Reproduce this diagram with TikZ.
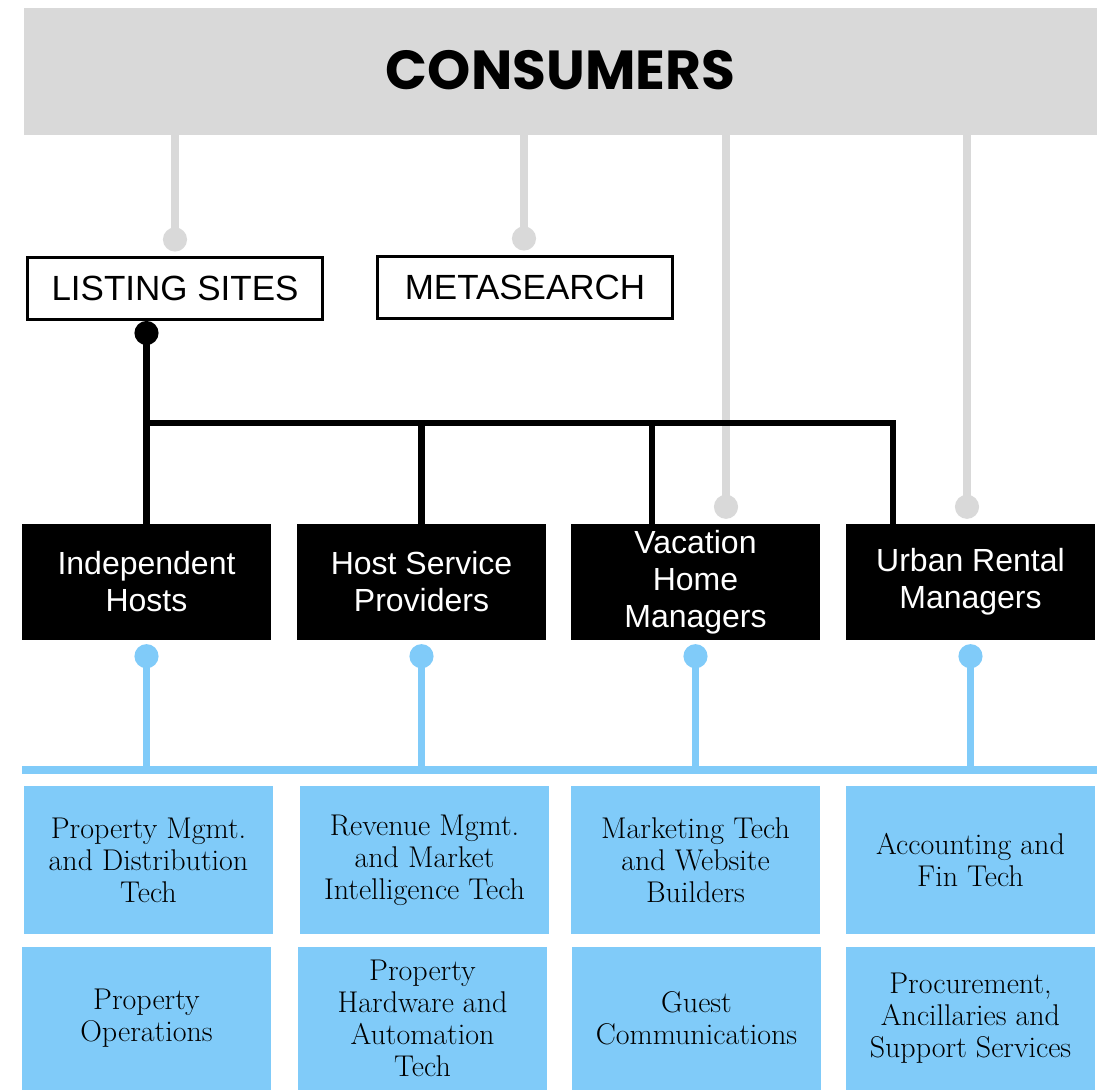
\documentclass[tikz,border=0pt]{standalone}
\usepackage{fontspec}
\newfontfamily\headfont{Poppins}
\newfontfamily\boxfont{Liberation Sans}
\usetikzlibrary{arrows.meta,positioning,calc}
\definecolor{band}{RGB}{217,217,217}
\definecolor{sky}{RGB}{128,203,249}
\tikzset{
  every node/.style={inner sep=0pt},
  hdr/.style={fill=band,minimum width=1073pt,minimum height=127pt,font=\headfont\bfseries\fontsize{55}{60}\selectfont},
  chan/.style={draw=black,line width=3pt,fill=white,minimum width=295pt,minimum height=62pt,font=\boxfont\fontsize{35}{40}\selectfont},
  seg/.style={fill=black,text=white,align=center,minimum width=249pt,minimum height=116pt,font=\boxfont\fontsize{32}{37}\selectfont},
  svc/.style={fill=sky,align=center,minimum width=249pt,minimum height=148pt,font=\fontsize{30}{32}\selectfont},
  svcb/.style={svc,minimum height=143pt},
  gwire/.style={draw=band,line width=8.5pt,-{Circle[length=24pt]}},
  bwire/.style={draw=black,line width=6.5pt},
  cwire/.style={draw=sky,line width=7.5pt},
}

\begin{document}
\begin{tikzpicture}[x=1pt,y=1pt]
  \useasboundingbox (0,0) rectangle (1097,-1091);

  % consumers band
  \node[hdr] (cons) at (560.5,-71.5) {\raisebox{3pt}{CONSUMERS}};

  % channels
  \node[chan] (lst) at (175,-288.5) {LISTING SITES};
  \node[chan] (meta) at (525,-287.5) {METASEARCH};

  % supply segments
  \node[seg] (ih) at (146.5,-582) {Independent\\Hosts};
  \node[seg] (hs) at (421.5,-582) {Host Service\\Providers};
  \node[seg] (vh) at (695.5,-582) {Vacation\\Home\\Managers};
  \node[seg] (ur) at (970.5,-582) {Urban Rental\\Managers};

  % services, first row
  \node[svc] (s1) at (148.5,-860) {Property Mgmt.\\and Distribution\\Tech};
  \node[svc] (s2) at (424.5,-860) {Revenue Mgmt.\\and Market\\Intelligence Tech};
  \node[svc] (s3) at (695.5,-860) {Marketing Tech\\and Website\\Builders};
  \node[svc] (s4) at (970.5,-860) {Accounting and\\Fin Tech};

  % services, second row
  \node[svcb] (t1) at (146.5,-1018.5) {Property\\Operations};
  \node[svcb] (t2) at (422.5,-1018.5) {Property\\Hardware and\\Automation\\Tech};
  \node[svcb] (t3) at (696.5,-1018.5) {Guest\\Communications};
  \node[svcb] (t4) at (970.5,-1018.5) {Procurement,\\Ancillaries and\\Support Services};

  % grey links down from consumers
  \coordinate (g1) at ([yshift=4.5pt]lst.north);
  \coordinate (g2) at ([xshift=-1pt,yshift=4.5pt]meta.north);
  \coordinate (g3) at ([xshift=30.5pt,yshift=5pt]vh.north);
  \coordinate (g4) at ([xshift=-3.5pt,yshift=5pt]ur.north);
  \foreach \g in {g1,g2,g3,g4}
    \draw[gwire] (\g |- cons.south) -- (\g);

  % black tree from listing sites
  \draw[bwire,-{Circle[length=24pt]}] (ih.north) -- (ih.north |- lst.south);
  \coordinate (jn) at (ih.north |- 0,-423);
  \coordinate (v3) at ([xshift=-43.5pt]vh.north);
  \coordinate (v4) at ([xshift=-77.5pt]ur.north);
  \draw[bwire] (jn) -| (v4);
  \draw[bwire] (hs.north) -- (hs.north |- jn);
  \draw[bwire] (v3) -- (v3 |- jn);

  % blue bus to the services
  \coordinate (cL) at (22,-770);
  \coordinate (cR) at (1097,-770);
  \draw[cwire] (cL) -- (cR);
  \foreach \s in {ih,hs,vh,ur}
    \draw[cwire,-{Circle[length=24pt]}] (\s.south |- cL) -- ([yshift=-4pt]\s.south);
\end{tikzpicture}
\end{document}
